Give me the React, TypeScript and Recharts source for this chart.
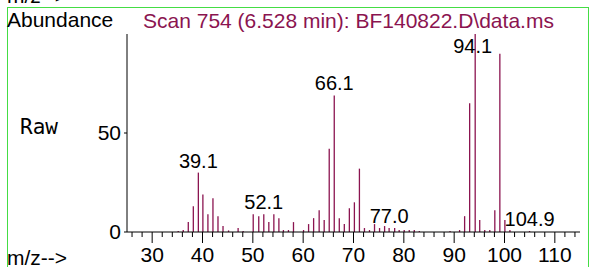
import React from 'react';
import { BarChart, Bar, XAxis, YAxis, LabelList } from 'recharts';

// mass spectrum, scan 754
const mz = [
  35.1, 36.1, 37.1, 38.1, 39.1, 40.0, 41.0, 42.0, 43.0, 44.0, 45.1, 47.0, 48.0,
  50.0, 51.1, 52.1, 53.1, 54.1, 55.1, 56.0, 57.0, 58.0, 60.0, 61.0, 62.0, 63.1,
  64.1, 65.1, 66.1, 67.1, 68.1, 69.1, 70.1, 71.1, 72.1, 73.1, 74.1, 75.1, 76.1,
  77.0, 78.1, 79.0, 80.0, 81.0, 82.0, 83.0, 89.1, 91.0, 92.0, 93.0, 94.1, 95.0,
  96.0, 97.0, 98.0, 99.0, 100.0, 101.0, 104.9,
];
const abundance = [
  0.5, 1, 5, 13, 30, 19, 9, 17, 8, 3, 0.8, 2, 0.5,
  9, 8, 9, 5, 9, 7, 1, 1, 5, 1, 4, 7, 11,
  6, 42, 69, 7, 4, 12, 15, 32, 2, 1, 4, 2, 3,
  2, 2, 1, 1, 1, 1, 0.5, 0.5, 1, 8, 65, 100, 6,
  1, 1, 11, 90, 6, 1, 0.5,
];
const peakLabels = ['39.1', '52.1', '66.1', '77.0', '94.1', '104.9'];

const xTicks = [
  26, 28, 30, 32, 34, 36, 38, 40, 42, 44, 46, 48, 50, 52, 54, 56, 58, 60, 62, 64,
  66, 68, 70, 72, 74, 76, 78, 80, 82, 84, 86, 88, 90, 92, 94, 96, 98, 100, 102,
  104, 106, 108, 110, 112, 114,
];
const yTicks = [0, 50];

const data = mz.map((m, i) => ({
  mz: m,
  abundance: abundance[i],
  label: peakLabels.find((l) => parseFloat(l) === m),
}));

const font = '"Liberation Sans", Arial, sans-serif';
const lineColor = '#8b1450';

const XTick = (props: any) => {
  const { x, y, payload } = props;
  const major = payload.value % 10 === 0;
  return (
    <g>
      <line x1={x} y1={y} x2={x} y2={y + (major ? 11 : 5)} stroke="#000" />
      {major && (
        <text x={x} y={y + 30} textAnchor="middle" fontFamily={font} fontSize={21} fill="#000">
          {payload.value}
        </text>
      )}
    </g>
  );
};

const PeakLabel = (props: any) => {
  const { x, y, width, value } = props;
  if (!value) return null;
  // keep the top label clear of the title
  const baseline = Math.max(y - 5, 53);
  const cx = x + width / 2 - (baseline > y - 5 ? 2.5 : 0);
  return (
    <text x={cx} y={baseline} textAnchor="middle" fontFamily={font} fontSize={20} fill="#000">
      {value}
    </text>
  );
};

const App = () => {
  return (
    <div style={{ position: 'absolute', left: 0, top: 0, width: 591, height: 267, overflow: 'hidden', background: '#fff' }}>
      <BarChart
        width={591}
        height={267}
        data={data}
        barSize={1.3}
        margin={{ top: 34, right: 11, left: 67, bottom: 5 }}
      >
        <XAxis
          dataKey="mz"
          type="number"
          domain={[25, 115]}
          allowDataOverflow
          ticks={xTicks}
          interval={0}
          tickSize={0}
          tickMargin={0}
          tickLine={false}
          tick={<XTick />}
          height={30}
          axisLine={{ stroke: '#000' }}
        />
        <YAxis
          type="number"
          domain={[0, 100]}
          ticks={yTicks}
          width={60}
          tickSize={3}
          tickMargin={3}
          axisLine={{ stroke: '#000' }}
          tickLine={{ stroke: '#000' }}
          tick={{ fill: '#000', fontSize: 21, fontFamily: font }}
        />
        <Bar dataKey="abundance" fill={lineColor} isAnimationActive={false}>
          <LabelList dataKey="label" content={<PeakLabel />} />
        </Bar>
      </BarChart>
      <svg
        width={591}
        height={267}
        style={{ position: 'absolute', left: 0, top: 0, pointerEvents: 'none' }}
      >
        <rect x={7.5} y={7.5} width={581} height={300} fill="none" stroke="#44dd44" />
        <text x={7} y={3} fontFamily={font} fontSize={21} fill="#000">m/z--&gt;</text>
        <text x={7} y={27} fontFamily={font} fontSize={21} fill="#000">Abundance</text>
        <text x={143} y={28} fontFamily={font} fontSize={21} fill={lineColor}>
          Scan 754 (6.528 min): BF140822.D\data.ms
        </text>
        <text x={20} y={134} fontFamily='"DejaVu Sans Mono", monospace' fontSize={21} fill="#000">Raw</text>
        <text x={7} y={265} fontFamily={font} fontSize={21} fill="#000">m/z--&gt;</text>
      </svg>
    </div>
  );
};

export default App;
